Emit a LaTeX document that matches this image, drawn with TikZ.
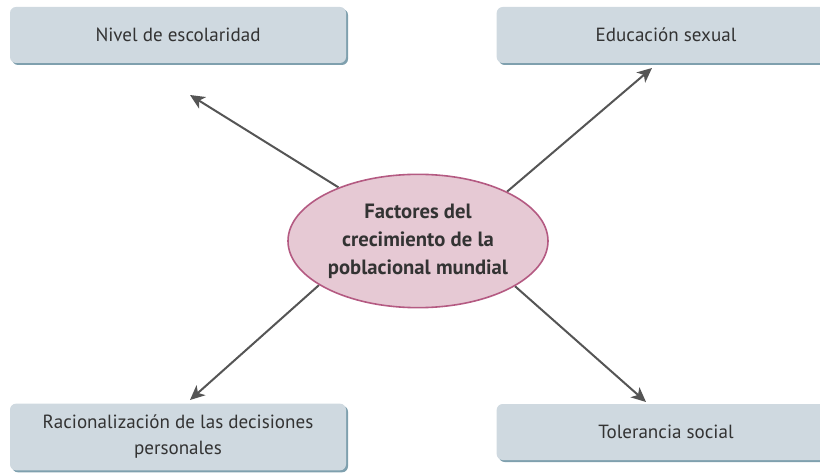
\documentclass[tikz,border=0pt]{standalone}
\usepackage{fontspec}
\setmainfont{PT Sans}
\usepackage{xcolor}
\usetikzlibrary{positioning,arrows.meta,shapes.geometric,backgrounds}
\definecolor{cajafondo}{HTML}{CFD9E0}
\definecolor{cajaborde}{HTML}{7FA0AE}
\definecolor{elipsefondo}{HTML}{E6C9D4}
\definecolor{elipseborde}{HTML}{B45A82}
\definecolor{flecha}{HTML}{555555}
\definecolor{texto}{HTML}{333333}

\begin{document}
\begin{tikzpicture}[x=0.75pt, y=-0.75pt, >={Stealth[length=11pt,width=10pt,inset=3pt]},
  every node/.style={font=\fontsize{14.3}{19.5}\selectfont, text=texto, align=center},
  caja/.style={rectangle, rounded corners=4.5pt, fill=cajafondo, inner sep=0pt,
    preaction={fill=cajaborde, transform canvas={shift={(1.5pt,-1.5pt)}}},
    minimum width=252pt, minimum height=42pt},
  factor/.style={ellipse, fill=elipsefondo, draw=elipseborde, line width=1.2pt,
    minimum width=195pt, minimum height=100pt, inner sep=0pt,
    font=\fontsize{15.5}{21}\bfseries\selectfont},
  conector/.style={->, draw=flecha, line width=1.5pt}]
  \useasboundingbox (0,0) rectangle (820,473);
  \clip (0,0) rectangle (820,473);

  % boxes round the centre
  \node[caja] (nivel) at (178,35) {Nivel de escolaridad};
  \node[caja, minimum width=254pt] (educacion) at (666,35) {Educación sexual};
  \node[caja, minimum height=50pt] (racional) at (178,437) {Racionalización de las decisiones\\personales};
  \node[caja, minimum width=254pt] (tolerancia) at (666,432) {Tolerancia social};

  % central ellipse
  \node[factor] (factores) at (418,241) {Factores del\\crecimiento de la\\poblacional mundial};

  \coordinate (tipNivel) at (190,95);
  \coordinate (tipEducacion) at (652,68);
  \coordinate (tipRacional) at (190,400);
  \coordinate (tipTolerancia) at (646,402);

  \begin{scope}[on background layer]
    \draw[conector] (factores.146.6) -- (tipNivel);
    \draw[conector] (factores.29.5) -- (tipEducacion);
    \draw[conector] (factores.204.6) -- (tipRacional);
    \draw[conector] (factores.335.4) -- (tipTolerancia);
  \end{scope}
\end{tikzpicture}
\end{document}
